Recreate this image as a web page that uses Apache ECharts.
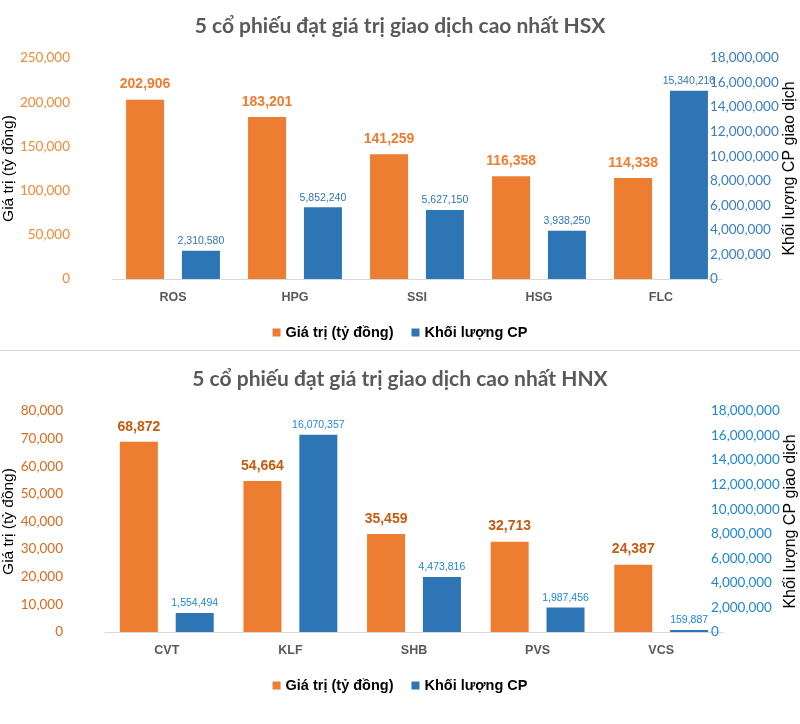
<!DOCTYPE html>
<html><head><meta charset="utf-8">
<script src="https://cdn.jsdelivr.net/npm/echarts@6/dist/echarts.min.js"></script>
<style>html,body{margin:0;padding:0;background:#fff}#c{width:800px;height:724px}</style>
</head><body><div id="c"></div>
<script>
const hsxTitle = '5 cổ phiếu đạt giá trị giao dịch cao nhất HSX';
const hnxTitle = '5 cổ phiếu đạt giá trị giao dịch cao nhất HNX';
const hsxCategories = ['ROS', 'HPG', 'SSI', 'HSG', 'FLC'];
const hsxValue = [202906, 183201, 141259, 116358, 114338];
const hsxVolume = [2310580, 5852240, 5627150, 3938250, 15340210];
const hnxCategories = ['CVT', 'KLF', 'SHB', 'PVS', 'VCS'];
const hnxValue = [68872, 54664, 35459, 32713, 24387];
const hnxVolume = [1554494, 16070357, 4473816, 1987456, 159887];
const seriesNames = ['Giá trị (tỷ đồng)', 'Khối lượng CP'];
const leftAxisName = 'Giá trị (tỷ đồng)';
const rightAxisName = 'Khối lượng CP giao dịch';
const hsxLeftMax = 250000, hsxLeftInterval = 50000;
const hnxLeftMax = 80000, hnxLeftInterval = 10000;
const rightMax = 18000000, rightInterval = 2000000;

const ORANGE = '#ED7D31', BLUE = '#2E75B6';
const fmt = v => Number(v).toLocaleString('en-US');
const tickFont = 'Lato, "Noto Sans", sans-serif';
const narrow = '"Liberation Sans Narrow", "Arial Narrow", "Liberation Sans", sans-serif';

function leftAxis(gi, max, interval, color, gap) {
  return {
    type: 'value', gridIndex: gi, position: 'left', min: 0, max: max, interval: interval,
    axisLine: {show: false}, axisTick: {show: false}, splitLine: {show: false},
    axisLabel: {color: color, fontFamily: tickFont, fontSize: 13.5, margin: 42, formatter: fmt},
    name: leftAxisName, nameLocation: 'middle', nameGap: gap, nameRotate: 90, nameMoveOverlap: false,
    nameTextStyle: {color: '#000', fontFamily: '"Liberation Sans", Arial, sans-serif', fontSize: 15.5}
  };
}
function rightAxis(gi, color) {
  return {
    type: 'value', gridIndex: gi, position: 'right', offset: -14, min: 0, max: rightMax, interval: rightInterval,
    axisLine: {show: false}, axisTick: {show: false}, splitLine: {show: false},
    axisLabel: {color: color, fontFamily: tickFont, fontSize: 13.5, margin: 2, formatter: fmt},
    name: rightAxisName, nameLocation: 'middle', nameGap: 74, nameRotate: 90, nameMoveOverlap: false,
    nameTextStyle: {color: '#000', fontFamily: '"Liberation Sans", Arial, sans-serif', fontSize: 16}
  };
}
function xAxis(gi, cats) {
  return {
    type: 'category', gridIndex: gi, data: cats,
    axisLine: {lineStyle: {color: '#D9D9D9', width: 1}}, axisTick: {show: false},
    axisLabel: {color: '#595959', fontWeight: 'bold', fontSize: 12.5, margin: 12,
      fontFamily: '"Liberation Sans", Arial, sans-serif'}
  };
}
function barPair(xi, yl, yr, vals, vols, oLabel, bLabel) {
  return [
    {name: seriesNames[0], type: 'bar', xAxisIndex: xi, yAxisIndex: yl, data: vals,
     barWidth: 38, barGap: '47%', itemStyle: {color: ORANGE},
     label: {show: true, position: 'top', distance: 8, color: oLabel, fontWeight: 'bold',
       fontSize: 14, fontFamily: narrow, formatter: p => fmt(p.value)}},
    {name: seriesNames[1], type: 'bar', xAxisIndex: xi, yAxisIndex: yr, data: vols,
     barWidth: 38, itemStyle: {color: BLUE},
     label: {show: true, position: 'top', distance: 4, color: bLabel,
       fontSize: 10.5, fontFamily: narrow, formatter: p => fmt(p.value)}}
  ];
}
const legendBase = {
  data: seriesNames, icon: 'rect', itemWidth: 8, itemHeight: 8, itemGap: 18,
  left: 'center',
  textStyle: {color: '#000', fontWeight: 'bold', fontSize: 14.5, fontFamily: '"Liberation Sans", Arial, sans-serif'}
};
const titleStyle = {color: '#595959', fontWeight: 'bold', fontSize: 21, fontFamily: 'Lato, "Noto Sans", sans-serif'};

const chart = echarts.init(document.getElementById('c'), null, {renderer: 'canvas'});
chart.setOption({
  animation: false,
  title: [
    {text: hsxTitle, left: 'center', top: 11, textStyle: titleStyle},
    {text: hnxTitle, left: 'center', top: 364, textStyle: titleStyle}
  ],
  legend: [
    Object.assign({top: 320}, legendBase),
    Object.assign({top: 673}, legendBase)
  ],
  grid: [
    {left: 112, width: 610, top: 58, height: 221, containLabel: false, outerBoundsMode: 'none'},
    {left: 105, width: 618, top: 411, height: 221, containLabel: false, outerBoundsMode: 'none'}
  ],
  xAxis: [xAxis(0, hsxCategories), xAxis(1, hnxCategories)],
  yAxis: [
    leftAxis(0, hsxLeftMax, hsxLeftInterval, '#F08A3C', 95),
    rightAxis(0, '#3B7DC4'),
    leftAxis(1, hnxLeftMax, hnxLeftInterval, '#D86A1E', 88),
    rightAxis(1, '#1F86D6')
  ],
  series: [].concat(
    barPair(0, 0, 1, hsxValue, hsxVolume, ORANGE, '#2E75B6'),
    barPair(1, 2, 3, hnxValue, hnxVolume, '#C55A11', '#1F86D6')
  ),
  graphic: [{type: 'rect', shape: {x: 0, y: 350, width: 800, height: 1}, style: {fill: '#D9D9D9'}, silent: true}]
});
</script></body></html>
